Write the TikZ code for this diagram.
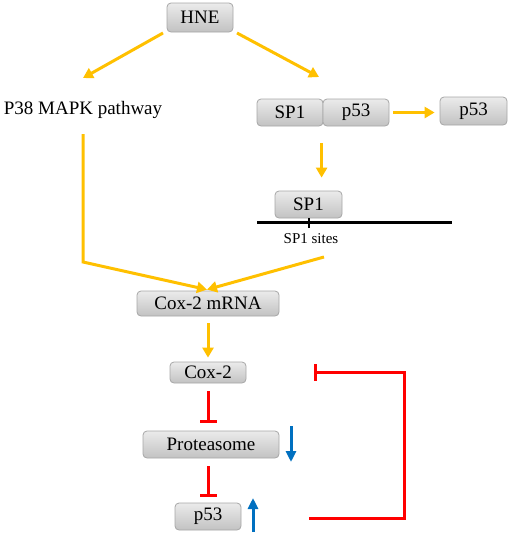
\documentclass[tikz,border=0pt]{standalone}
\usepackage{fontspec}
\setmainfont{Liberation Serif}
\usetikzlibrary{arrows.meta,calc}
\definecolor{boxtop}{HTML}{EBEBEB}
\definecolor{boxbot}{HTML}{C2C2C2}
\definecolor{boxline}{HTML}{A6A6A6}
\definecolor{gold}{HTML}{FFC000}
\definecolor{inhred}{HTML}{FF0000}
\definecolor{upblue}{HTML}{0070C0}
\begin{document}
\begin{tikzpicture}[x=1pt,y=-1pt,
  gene/.style={draw=boxline,line width=0.8pt,rounded corners=4pt,top color=boxtop,bottom color=boxbot,
    inner sep=0pt,font=\fontsize{19}{22}\selectfont},
  act/.style={draw=gold,line width=3pt,-{Triangle[length=10pt,width=11pt]}},
  inh/.style={draw=inhred,line width=3pt,-{Bar[width=17pt,line width=3pt]}},
  trend/.style={draw=upblue,line width=3pt,-{Triangle[length=11pt,width=10pt]}}]
\useasboundingbox (0,0) rectangle (510,536);

\node[gene,minimum width=66pt,minimum height=29pt] (hne) at (200,17.5) {HNE};
\node[font=\fontsize{19}{22}\selectfont,inner sep=0pt] (p38) at (83,110) {P38 MAPK pathway};
\node[gene,minimum width=66pt,minimum height=27pt] (sp1c) at (290,112.5) {SP1};
\node[gene,minimum width=66pt,minimum height=27pt] (p53c) at (356,112.5) {p53};
\node[gene,minimum width=67pt,minimum height=28pt] (p53r) at (473.5,111) {p53};
\node[gene,minimum width=67pt,minimum height=27pt] (sp1s) at (308.5,204.5) {SP1};
\node[font=\fontsize{15}{17}\selectfont,inner sep=0pt] (sites) at (311,239) {SP1 sites};
\node[gene,minimum width=142pt,minimum height=25pt] (mrna) at (208,303.5) {Cox-2 mRNA};
\node[gene,minimum width=76pt,minimum height=21pt] (cox) at (208,372.5) {Cox-2};
\node[gene,minimum width=136pt,minimum height=27pt] (prot) at (211,444.5) {Proteasome};
\node[gene,minimum width=66pt,minimum height=27pt] (p53b) at (208,516.5) {p53};

% free ends
\coordinate (hl) at (163,33);
\coordinate (hr) at (237,33);
\coordinate (pl) at (83,78);
\coordinate (pr) at (319,77);
\coordinate (p38a) at (83,134);
\coordinate (p38b) at (83,262);
\coordinate (sitesa) at (324,257);
\coordinate (dnal) at (257,222);
\coordinate (dnar) at (452,222);
\coordinate (fba) at (309,518);
\coordinate (fbb) at (404,518);
\coordinate (fbc) at (404,372);
\coordinate (fbd) at (313.5,372);

\draw[act] (hl) -- (pl);
\draw[act] (hr) -- (pr);
\draw[act] ($(p53c.east)+(4,0)$) -- ($(p53r.west|-p53c.east)+(-5,0)$);
\draw[act] ($(p53c.south west)+(-1,17)$) -- ($(sp1s.north-|p53c.south west)+(-1,-13)$);
\draw[line width=3pt] (dnal) -- (dnar);
\draw[line width=2pt] ($(sp1s.south)+(0.5,0)$) -- ++(0,10);
\draw[act] (p38a) -- (p38b) -- ($(mrna.north)+(-1,-1)$);
\draw[act] (sitesa) -- ($(mrna.north)+(-1,-1)$);
\draw[act] ($(mrna.south)+(0,7)$) -- ($(cox.north)+(0,-4)$);
\draw[inh] ($(cox.south)+(0,8)$) -- ($(prot.north)+(-3,-8)$);
\draw[inh] ($(prot.south)+(-3,8)$) -- ($(p53b.north)+(0,-6)$);
\draw[trend] (291,426) -- (291,462);
\draw[trend] (253,532) -- (253,498);
\draw[inh] (fba) -- (fbb) -- (fbc) -- (fbd);

\end{tikzpicture}
\end{document}
